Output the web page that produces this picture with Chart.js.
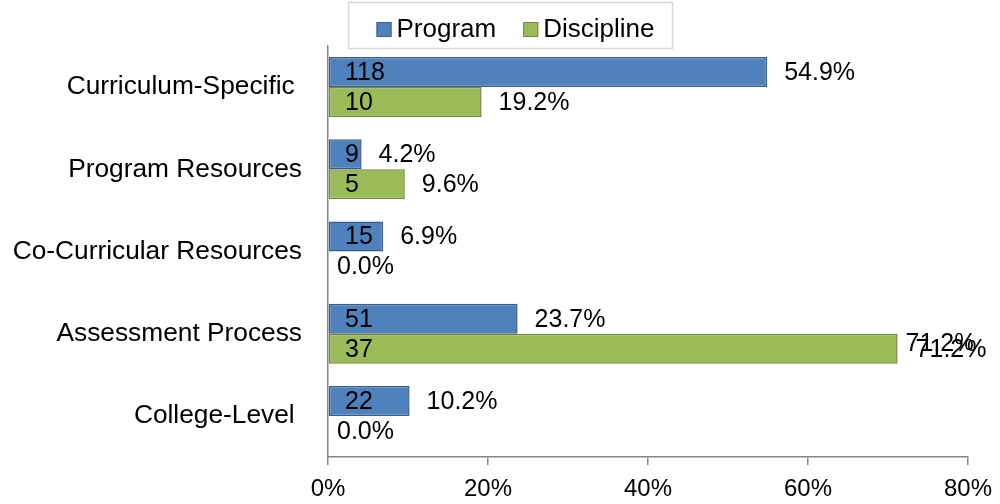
<!DOCTYPE html>
<html>
<head>
<meta charset="utf-8">
<script src="https://cdn.jsdelivr.net/npm/chart.js@4"></script>
<style>
    html, body { margin: 0; padding: 0; background: #fff; }
    #wrap { width: 1000px; height: 504px; }
</style>
</head>
<body>
<div id="wrap"><canvas id="chart" width="1000" height="504"></canvas></div>
<script>
const categories = ["Curriculum-Specific ", "Program Resources", "Co-Curricular Resources", "Assessment Process", "College-Level "];
const seriesNames = ["Program", "Discipline"];
const programPct = [54.9, 4.2, 6.9, 23.7, 10.2];
const disciplinePct = [19.2, 9.6, 0.0, 71.2, 0.0];
const programCount = [118, 9, 15, 51, 22];
const disciplineCount = [10, 5, 0, 37, 0];
const xTickValues = [0, 20, 40, 60, 80];
// the source picture shows the 71.2% label printed twice, slightly offset
const doubledLabels = [[1, 3]];

const FONT = "'Liberation Sans', Arial, sans-serif";
const counts = [programCount, disciplineCount];

const labelPlugin = {
    id: "barLabels",
    afterDatasetsDraw(chart) {
        const ctx = chart.ctx;
        const left = chart.chartArea.left;
        ctx.save();
        ctx.font = "25px " + FONT;
        ctx.fillStyle = "#000";
        ctx.textBaseline = "middle";
        ctx.textAlign = "left";
        chart.data.datasets.forEach((ds, di) => {
            chart.getDatasetMeta(di).data.forEach((bar, i) => {
                const v = ds.data[i];
                const n = counts[di][i];
                if (n > 0) ctx.fillText(String(n), left + 17, bar.y + 1);
                const x = v > 0 ? bar.x + 17 : left + 9;
                const txt = v.toFixed(1) + "%";
                const twice = doubledLabels.some(d => d[0] === di && d[1] === i);
                if (twice) {
                    ctx.fillText(txt, x - 9, bar.y - 5);
                    ctx.fillText(txt, x + 1, bar.y + 1);
                } else {
                    ctx.fillText(txt, x, bar.y + 1);
                }
            });
        });
        ctx.restore();
    }
};

const legendPlugin = {
    id: "boxLegend",
    afterDraw(chart) {
        const ctx = chart.ctx;
        ctx.save();
        ctx.font = "26px " + FONT;
        const sq = 15, gap = 5, spacing = 27;
        const widths = seriesNames.map(s => ctx.measureText(s).width);
        const total = widths.reduce((a, w) => a + sq + gap + w, 0) + spacing;
        const cx = 515.5, cy = 30;
        ctx.strokeStyle = "#d9d9d9";
        ctx.lineWidth = 1.5;
        ctx.strokeRect(348.5, 2.5, 324, 46);
        let x = cx - total / 2;
        chart.data.datasets.forEach((ds, i) => {
            ctx.fillStyle = ds.backgroundColor;
            ctx.fillRect(x, cy - 8, sq, sq);
            ctx.strokeStyle = ds.borderColor;
            ctx.lineWidth = 1;
            ctx.strokeRect(x + 0.5, cy - 7.5, sq - 1, sq - 1);
            ctx.fillStyle = "#000";
            ctx.textBaseline = "middle";
            ctx.fillText(seriesNames[i], x + sq + gap, cy);
            x += sq + gap + widths[i] + spacing;
        });
        ctx.restore();
    }
};

new Chart(document.getElementById("chart"), {
    type: "bar",
    data: {
        labels: categories,
        datasets: [
            {
                label: seriesNames[0],
                data: programPct,
                backgroundColor: "#4F81BD",
                borderColor: "#385D8A",
                borderWidth: 1.5,
                borderSkipped: false,
            },
            {
                label: seriesNames[1],
                data: disciplinePct,
                backgroundColor: "#9BBB59",
                borderColor: "#71893F",
                borderWidth: 1.5,
                borderSkipped: false,
            },
        ],
    },
    options: {
        indexAxis: "y",
        responsive: false,
        animation: false,
        layout: { padding: { top: 46, right: 32, left: 0, bottom: 0 } },
        datasets: { bar: { categoryPercentage: 0.73, barPercentage: 1 } },
        plugins: {
            legend: { display: false },
            tooltip: { enabled: false },
        },
        scales: {
            x: {
                min: 0,
                max: 80,
                afterBuildTicks(scale) {
                    scale.ticks = xTickValues.map(v => ({ value: v }));
                },
                afterFit(scale) {
                    scale.height = 47;
                    scale.paddingLeft = 0;
                    scale.paddingRight = 0;
                },
                grid: { drawOnChartArea: false, tickLength: 8, color: "#868686", lineWidth: 1.5 },
                border: { color: "#868686", width: 1.5 },
                ticks: {
                    color: "#000",
                    padding: 10,
                    font: { family: FONT, size: 24 },
                    callback: v => v + "%",
                },
            },
            y: {
                afterFit(scale) { scale.width = 328; },
                grid: { display: false },
                border: { color: "#868686", width: 1.5 },
                ticks: {
                    color: "#000",
                    padding: 18,
                    font: { family: FONT, size: 26.3 },
                },
            },
        },
    },
    plugins: [labelPlugin, legendPlugin],
});
</script>
</body>
</html>
